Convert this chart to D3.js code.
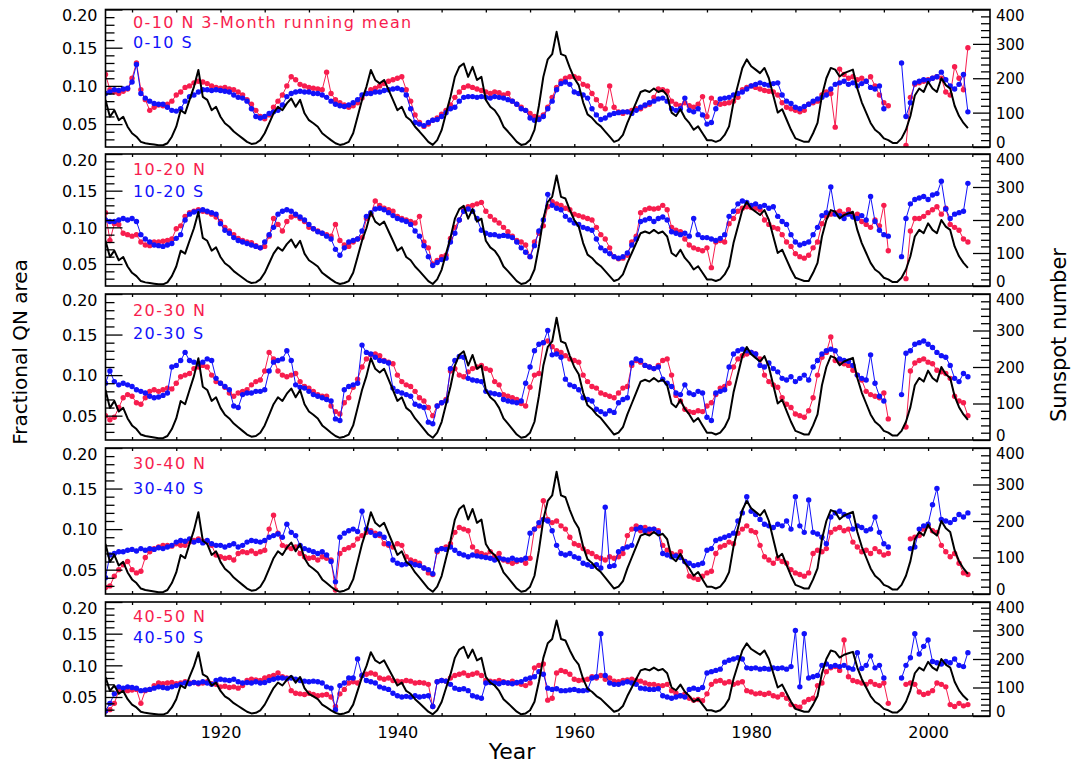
<!DOCTYPE html>
<html lang="en">
<head>
<meta charset="UTF-8">
<title>Fractional QN area and sunspot number</title>
<script src="https://d3js.org/d3.v7.min.js"></script>
<style>
    body { margin: 0; background: #ffffff; }
    text { font-family: "DejaVu Sans", sans-serif; fill: #000; }
    .axis path { display: none; }
    .axis line { stroke: #000; stroke-width: 1.3; }
</style>
</head>
<body>
<svg id="fig" width="1074" height="767"></svg>
<script>
    // half-yearly samples, the first one at 1907.0
    const startYear = 1907;
    const step = 0.5;

    // sunspot number (3-month running mean), right axis
    const sunspot = [
        137, 88, 107, 78, 88, 59,
        40, 30, 15, 11, 9, 7, 5, 5, 11, 30, 59, 107, 98, 137, 175, 224, 146, 137, 107, 117,
        88, 69, 59, 45, 35, 25, 15, 9, 11, 20, 40, 69, 98, 117, 107, 127, 141, 117, 137, 98,
        78, 69, 59, 40, 30, 20, 11, 6, 9, 15, 40, 88, 137, 175, 224, 195, 185, 195, 166, 137,
        107, 117, 88, 78, 59, 45, 30, 15, 6, 20, 49, 98, 146, 204, 233, 243, 204, 233, 195, 204,
        137, 117, 107, 88, 59, 45, 30, 15, 6, 9, 20, 50, 120, 204, 255, 270, 335, 270, 265, 230,
        200, 180, 130, 95, 85, 70, 60, 45, 30, 15, 20, 35, 70, 100, 130, 160, 165, 160, 170, 160,
        165, 150, 100, 90, 110, 85, 70, 50, 60, 40, 20, 20, 15, 20, 35, 60, 130, 180, 230, 255,
        235, 225, 215, 230, 200, 150, 100, 110, 80, 50, 25, 20, 15, 15, 40, 70, 150, 200, 230, 225,
        205, 215, 220, 225, 170, 130, 100, 70, 50, 40, 25, 20, 12, 12, 25, 50, 90, 150, 170, 160,
        190, 170, 160, 200, 180, 170, 120, 90, 70, 55
    ];

    // fractional QN area in units of 0.001, left axis
    const n0_10 = [
        115, 95, 92, 90, 93, 96,
        110, 130, 95, 82, 68, 72, 75, 74, 76, 80, 88, 92, 98, 100, 104, 106, 105, 103, 100, 98,
        97, 98, 96, 95, 92, 88, 82, 76, 68, 60, 57, 62, 72, 80, 88, 100, 112, 108, 102, 100,
        98, 97, 96, 95, 118, 90, 82, 78, 75, 72, 74, 78, 84, 90, 95, 97, 100, 103, 106, 108,
        110, 112, 95, 80, 62, 52, 47, 50, 55, 58, 63, 68, 75, 85, 92, 98, 100, 98, 96, 94,
        92, 90, 92, 91, 88, 90, 80, 76, 72, 68, 64, 60, 58, 62, 72, 85, 98, 106, 110, 112,
        112, 110, 102, 100, 90, 82, 74, 70, 100, 72, 66, 64, 66, 68, 70, 70, 74, 76, 85, 96,
        95, 93, 80, 76, 74, 78, 74, 72, 76, 86, 60, 84, 78, 76, 77, 78, 80, 85, 95, 98,
        100, 98, 96, 94, 93, 92, 88, 78, 72, 70, 68, 66, 68, 76, 78, 80, 88, 92, 90, 46,
        122, 115, 110, 112, 108, 110, 106, 112, 100, 88, 78, 74, null, null, null, 22, 85, 102, 104, 106,
        108, 110, 112, 110, 92, 88, 125, 110, 95, 150
    ];
    const s0_10 = [
        90, 92, 95, 94, 96, 97,
        105, 128, 90, 84, 80, 77, 76, 76, 72, 68, 67, 70, 80, 86, 88, 92, 95, 95, 94, 95,
        94, 93, 92, 88, 85, 84, 80, 70, 60, 58, 60, 64, 66, 68, 75, 86, 90, 92, 93, 92,
        92, 90, 90, 88, 85, 80, 76, 74, 73, 75, 78, 82, 88, 90, 90, 92, 92, 94, 95, 96,
        97, 95, 88, 70, 52, 50, 48, 52, 55, 56, 60, 65, 70, 72, 80, 85, 86, 86, 85, 86,
        85, 84, 86, 85, 84, 82, 80, 76, 70, 68, 58, 55, 56, 60, 70, 80, 95, 103, 105, 102,
        92, 90, 88, 84, 70, 62, 56, 58, 62, 64, 65, 66, 66, 64, 68, 72, 75, 78, 80, 83,
        84, 80, 70, 68, 70, 84, 68, 66, 70, 62, 50, 52, 70, 83, 84, 85, 88, 90, 92, 96,
        100, 102, 104, 102, 101, 103, 104, 88, 80, 77, 72, 70, 73, 76, 80, 83, 85, 88, 96, 102,
        104, 106, 102, 104, 100, 103, 106, 98, 96, 100, 70, null, null, null, 130, 60, 78, 104, 106, 108,
        107, 110, 112, 118, 108, 100, 96, 102, 115, 66
    ];
    const n10_20 = [
        120, 82, 105, 104, 92, 90,
        88, 90, 80, 76, 75, 80, 80, 81, 82, 84, 98, 102, 115, 120, 122, 124, 122, 121, 118, 114,
        108, 100, 95, 90, 85, 82, 80, 79, 75, 72, 74, 88, 112, 104, 95, 108, 114, 116, 112, 108,
        100, 98, 95, 92, 90, 88, 104, 82, 76, 74, 80, 84, 86, 112, 118, 136, 130, 126, 124, 122,
        115, 112, 110, 108, 106, 115, 80, 72, 50, 55, 60, 62, 85, 100, 110, 125, 128, 130, 132, 134,
        122, 115, 110, 106, 100, 94, 88, 82, 80, 76, 60, 80, 92, 102, 128, 135, 132, 130, 126, 124,
        118, 116, 114, 112, 110, 100, 90, 84, 72, 60, 57, 58, 62, 80, 88, 120, 124, 126, 125, 126,
        130, 124, 100, 96, 94, 84, 76, 72, 70, 68, 72, 45, 80, 82, 80, 105, 112, 122, 126, 128,
        127, 126, 124, 110, 104, 100, 98, 90, 80, 74, 64, 60, 58, 62, 72, 80, 105, 115, 118, 120,
        122, 118, 124, 115, 118, 108, 104, 100, 110, 102, 130, 68, null, null, null, 30, 95, 112, 112, 115,
        120, 124, 128, 118, 126, 104, 100, 96, 84, 80
    ];
    const s10_20 = [
        110, 108, 108, 110, 112, 110,
        112, 108, 90, 84, 80, 76, 75, 74, 76, 78, 85, 90, 110, 118, 121, 122, 124, 122, 120, 118,
        105, 96, 92, 86, 82, 80, 78, 76, 74, 72, 80, 90, 100, 118, 122, 124, 122, 118, 114, 110,
        104, 98, 94, 92, 88, 84, 70, 62, 72, 80, 82, 84, 95, 115, 120, 125, 126, 124, 120, 116,
        112, 110, 108, 104, 95, 88, 75, 60, 48, 52, 56, 58, 80, 92, 110, 122, 125, 122, 112, 96,
        92, 90, 90, 88, 89, 88, 86, 80, 72, 66, 60, 75, 95, 110, 145, 130, 126, 124, 115, 110,
        106, 104, 100, 98, 96, 84, 72, 68, 64, 60, 58, 60, 65, 76, 84, 108, 110, 112, 108, 112,
        114, 110, 94, 92, 90, 92, 88, 112, 90, 86, 86, 84, 82, 85, 90, 115, 122, 132, 136, 134,
        130, 132, 128, 130, 126, 128, 115, 108, 104, 90, 80, 76, 78, 80, 90, 100, 116, 120, 155, 118,
        116, 112, 118, 114, 112, 116, 110, 142, 108, 96, 90, 88, null, null, 60, 112, 132, 138, 140, 142,
        138, 144, 146, 163, 125, 112, 118, 120, 122, 160
    ];
    const n20_30 = [
        50, 45, 48, 60, 72, 76,
        74, 66, 64, 72, 80, 82, 80, 82, 84, 83, 90, 98, 100, 102, 108, 110, 112, 110, 100, 92,
        90, 85, 78, 74, 78, 80, 82, 88, 92, 94, 105, 128, 120, 105, 100, 98, 100, 102, 92, 86,
        84, 80, 76, 74, 74, 62, 55, 52, 66, 72, 85, 95, 110, 120, 125, 126, 124, 118, 116, 114,
        100, 92, 88, 86, 80, 72, 68, 60, 50, 62, 66, 70, 105, 108, 100, 98, 104, 108, 110, 112,
        108, 106, 92, 88, 76, 74, 72, 70, 65, 62, 85, 100, 102, 140, 142, 135, 130, 128, 124, 120,
        118, 116, 100, 92, 86, 84, 78, 76, 74, 72, 78, 84, 86, 112, 118, 116, 112, 110, 108, 112,
        118, 120, 100, 75, 68, 58, 55, 54, 56, 55, 62, 66, 76, 84, 86, 90, 110, 120, 124, 126,
        128, 126, 120, 100, 92, 88, 85, 72, 64, 60, 52, 50, 48, 56, 72, 100, 122, 128, 147, 118,
        116, 114, 112, 106, 100, 94, 80, 76, 74, 72, 78, 46, null, null, null, 36, 105, 115, 118, 120,
        116, 114, 106, 104, 102, 96, 74, 68, 66, 50
    ];
    const s20_30 = [
        90, 105, 92, 88, 90, 88,
        86, 82, 80, 78, 74, 72, 73, 75, 78, 110, 112, 118, 128, 118, 116, 114, 116, 120, 118, 96,
        90, 86, 82, 62, 60, 76, 78, 78, 80, 80, 82, 105, 116, 118, 120, 130, 118, 88, 85, 84,
        80, 76, 74, 72, 70, 68, 46, 44, 82, 86, 88, 90, 137, 128, 126, 122, 118, 117, 115, 84,
        80, 78, 76, 74, 64, 62, 60, 42, 40, 62, 66, 68, 108, 118, 123, 122, 96, 94, 93, 92,
        80, 78, 77, 76, 70, 68, 67, 66, 68, 90, 110, 130, 138, 140, 155, 125, 126, 122, 95, 88,
        86, 82, 72, 70, 68, 58, 55, 52, 56, 54, 66, 70, 72, 115, 120, 118, 112, 110, 108, 110,
        95, 90, 86, 78, 76, 88, 78, 76, 80, 78, 48, 44, 78, 80, 82, 110, 126, 130, 132, 130,
        128, 126, 112, 110, 115, 108, 104, 96, 94, 98, 92, 96, 100, 94, 110, 118, 126, 130, 132, 130,
        120, 118, 117, 112, 100, 96, 94, 125, 90, 74, 68, null, null, null, 76, 127, 130, 138, 140, 142,
        138, 134, 128, 124, 122, 112, 96, 92, 102, 98
    ];
    const n30_40 = [
        28, 30, 42, 50, 56, 60,
        50, 46, 48, 65, 72, 76, 78, 80, 80, 79, 82, 80, 80, 84, 86, 88, 85, 84, 80, 68,
        66, 64, 65, 62, 70, 72, 71, 73, 70, 72, 74, 100, 117, 95, 80, 78, 76, 78, 70, 66,
        64, 65, 62, 66, 64, 62, 25, 70, 75, 77, 80, 88, 92, 96, 98, 95, 92, 82, 80, 78,
        82, 80, 66, 62, 60, 58, 52, 46, 44, 72, 76, 78, 82, 96, 102, 100, 98, 78, 72, 70,
        68, 72, 66, 70, 62, 60, 58, 60, 62, 58, 64, 100, 104, 135, 112, 108, 110, 104, 100, 90,
        82, 80, 76, 72, 70, 66, 64, 62, 66, 64, 66, 70, 92, 100, 104, 98, 102, 96, 100, 98,
        80, 74, 70, 68, 72, 60, 42, 40, 38, 42, 46, 48, 70, 78, 80, 84, 82, 95, 100, 104,
        98, 96, 80, 66, 62, 58, 64, 60, 58, 50, 46, 44, 42, 46, 70, 74, 72, 76, 96, 100,
        102, 98, 100, 84, 78, 72, 74, 70, 76, 72, 68, 70, null, null, null, null, 88, 90, 92, 100,
        104, 98, 96, 80, 72, 66, 70, 58, 46, 44
    ];
    const s30_40 = [
        40, 68, 70, 72, 72, 74,
        75, 73, 76, 74, 76, 75, 77, 76, 78, 80, 84, 86, 85, 88, 84, 86, 83, 86, 82, 80,
        80, 78, 80, 82, 78, 80, 84, 86, 85, 84, 86, 90, 92, 94, 90, 106, 96, 92, 80, 76,
        74, 72, 70, 72, 68, 60, 35, 90, 95, 98, 100, 97, 122, 100, 96, 92, 94, 90, 82, 62,
        58, 56, 57, 58, 56, 55, 52, 50, 45, 74, 76, 75, 78, 74, 70, 68, 66, 68, 67, 66,
        65, 64, 62, 64, 63, 62, 64, 62, 62, 64, 95, 100, 108, 112, 110, 98, 80, 70, 68, 70,
        66, 64, 58, 56, 54, 56, 52, 127, 54, 55, 72, 76, 78, 80, 100, 102, 98, 100, 100, 96,
        70, 68, 66, 67, 65, 60, 58, 55, 56, 58, 74, 76, 86, 88, 90, 92, 95, 110, 120, 140,
        122, 118, 112, 106, 104, 102, 106, 104, 110, 100, 140, 104, 96, 136, 96, 94, 90, 82, 115, 120,
        122, 118, 116, 100, 104, 102, 98, 100, 115, 96, 82, 78, null, null, null, null, 76, 78, 100, 104,
        106, 130, 150, 112, 110, 108, 112, 118, 115, 120
    ];
    const n40_50 = [
        28, 30, 40, 60, 62, 60,
        61, 62, 40, 60, 62, 68, 72, 71, 72, 73, 71, 72, 74, 72, 73, 71, 72, 74, 71, 70,
        66, 67, 65, 66, 64, 68, 76, 78, 77, 76, 80, 82, 84, 88, 82, 80, 60, 56, 55, 54,
        56, 54, 52, 53, 54, 50, 35, 55, 62, 72, 74, 72, 84, 86, 88, 86, 80, 78, 80, 76,
        75, 74, 76, 75, 72, 73, 72, 70, 35, 74, 76, 75, 80, 84, 86, 88, 84, 86, 88, 84,
        76, 75, 74, 76, 74, 72, 75, 72, 70, 68, 72, 96, 100, 102, 45, 48, 88, 92, 90, 86,
        78, 76, 77, 78, 82, 80, 84, 78, 80, 75, 74, 76, 77, 78, 76, 75, 72, 70, 70, 68,
        68, 70, 60, 56, 52, 55, 48, 45, 46, 44, 55, 70, 75, 76, 72, 74, 70, 72, 74, 60,
        58, 55, 56, 54, 56, 52, 50, 54, 48, 38, 35, 34, 42, 46, 48, 68, 72, 90, 96, 98,
        92, 140, 82, 76, 74, 72, 70, 74, 70, 68, 72, 40, null, null, null, 70, 72, 70, 58, 54,
        56, 60, 72, 70, 66, 38, 35, 40, 36, 38
    ];
    const s40_50 = [
        28, 40, 55, 66, 64, 66,
        65, 64, 60, 61, 62, 64, 66, 65, 64, 66, 68, 70, 72, 71, 73, 72, 74, 72, 70, 76,
        78, 77, 76, 78, 74, 72, 73, 72, 74, 72, 73, 76, 78, 80, 80, 79, 80, 78, 76, 75,
        74, 75, 74, 72, 66, 64, 30, 68, 72, 80, 80, 110, 84, 76, 74, 72, 66, 64, 62, 56,
        52, 50, 51, 50, 52, 50, 51, 52, 35, 74, 76, 75, 70, 64, 62, 63, 60, 52, 50, 48,
        72, 73, 72, 71, 73, 72, 71, 73, 74, 78, 80, 82, 90, 86, 64, 62, 63, 60, 60, 61,
        62, 60, 60, 61, 80, 82, 150, 84, 72, 70, 70, 72, 74, 72, 70, 64, 63, 62, 62, 63,
        52, 50, 48, 50, 52, 50, 62, 64, 62, 65, 88, 90, 92, 94, 105, 108, 110, 112, 110, 96,
        95, 96, 94, 95, 94, 96, 95, 96, 94, 98, 155, 66, 150, 80, 82, 84, 100, 102, 98, 100,
        98, 100, 96, 94, 120, 95, 100, 115, 96, 100, 80, null, null, null, 80, 100, 112, 150, 118, 130,
        140, 106, 104, 102, 106, 104, 110, 100, 98, 120
    ];

    const northSeries = [n0_10, n10_20, n20_30, n30_40, n40_50];
    const southSeries = [s0_10, s10_20, s20_30, s30_40, s40_50];
    const northLabels = ["0-10 N 3-Month running mean", "10-20 N", "20-30 N", "30-40 N", "40-50 N"];
    const southLabels = ["0-10 S", "10-20 S", "20-30 S", "30-40 S", "40-50 S"];

    const areaTicks = [50, 100, 150, 200];     // 0.001 units
    const sunspotTicks = [0, 100, 200, 300, 400];
    const yearTicks = [1920, 1940, 1960, 1980, 2000];

    // layout of the five stacked panels
    const panels = [
        {top: 9.5, bottom: 147, labelY: [22, 42]},
        {top: 154, bottom: 286, labelY: [169, 191]},
        {top: 294, bottom: 440, labelY: [310, 333]},
        {top: 448, bottom: 594, labelY: [463, 488]},
        {top: 602, bottom: 716, labelY: [616, 637]}
    ];
    const left = 105.5, right = 990;
    const red = "#f71d4e", blue = "#1212fa";

    let svg = d3.select("#fig");
    let x = d3.scaleLinear().domain([1907, 2007]).range([left, right]);

    function yearOf(i) { return startYear + i * step; }

    function drawPanel(p, k) {
        let y = d3.scaleLinear().domain([20, 200]).range([p.bottom, p.top]);
        let ySun = d3.scaleLinear().domain([0, 400]).range([p.bottom, p.top]);
        let g = svg.append("g");

        g.append("clipPath").attr("id", "clip" + k)
            .append("rect")
            .attr("x", left).attr("y", p.top)
            .attr("width", right - left).attr("height", p.bottom - p.top);
        let plot = g.append("g").attr("clip-path", "url(#clip" + k + ")");

        // red then blue, each as connected dots
        [[northSeries[k], red], [southSeries[k], blue]].forEach(function (s) {
            let pts = s[0].map(function (v, i) { return {t: yearOf(i), v: v}; });
            let line = d3.line()
                .defined(function (d) { return d.v != null; })
                .x(function (d) { return x(d.t); })
                .y(function (d) { return y(d.v); });
            plot.append("path").datum(pts)
                .attr("d", line)
                .attr("fill", "none")
                .attr("stroke", s[1])
                .attr("stroke-width", 1);
            plot.selectAll(null)
                .data(pts.filter(function (d) { return d.v != null; }))
                .enter().append("circle")
                .attr("cx", function (d) { return x(d.t); })
                .attr("cy", function (d) { return y(d.v); })
                .attr("r", 2.7)
                .attr("fill", s[1]);
        });

        // sunspot number on top
        let sunLine = d3.line()
            .x(function (d, i) { return x(yearOf(i)); })
            .y(function (d) { return ySun(d); });
        plot.append("path").datum(sunspot)
            .attr("d", sunLine)
            .attr("fill", "none")
            .attr("stroke", "#000")
            .attr("stroke-width", 2)
            .attr("stroke-linejoin", "round");

        // left axis
        g.append("g").attr("class", "axis")
            .attr("transform", "translate(" + left + ",0)")
            .call(d3.axisLeft(y).tickValues(d3.range(30, 200, 10).filter(function (v) { return v % 50; }))
                .tickSize(-9).tickFormat(""));
        g.append("g").attr("class", "axis")
            .attr("transform", "translate(" + left + ",0)")
            .call(d3.axisLeft(y).tickValues(areaTicks).tickSize(-17).tickPadding(8)
                .tickFormat(function (d) { return (d / 1000).toFixed(2); }))
            .selectAll("text").style("font-size", "16px")
            .attr("dy", function (d) { return d === 200 ? "0.7em" : "0.36em"; });

        // right axis
        g.append("g").attr("class", "axis")
            .attr("transform", "translate(" + right + ",0)")
            .call(d3.axisRight(ySun).tickValues(d3.range(20, 400, 20).filter(function (v) { return v % 100; }))
                .tickSize(-9).tickFormat(""));
        g.append("g").attr("class", "axis")
            .attr("transform", "translate(" + right + ",0)")
            .call(d3.axisRight(ySun).tickValues(sunspotTicks).tickSize(-17).tickPadding(6))
            .selectAll("text").style("font-size", "15px")
            .attr("dy", function (d) { return d === 400 ? "0.7em" : (d === 0 ? "0.05em" : "0.36em"); });

        // year ticks top and bottom
        let xt = d3.range(1910, 2007, 5);
        g.append("g").attr("class", "axis")
            .attr("transform", "translate(0," + p.top + ")")
            .call(d3.axisTop(x).tickValues(xt).tickSize(-3).tickFormat(""));
        let bottomAxis = g.append("g").attr("class", "axis")
            .attr("transform", "translate(0," + p.bottom + ")")
            .call(d3.axisBottom(x).tickValues(xt).tickSize(-3).tickPadding(11)
                .tickFormat(function (d) { return (k === 4 && yearTicks.includes(d)) ? d : ""; }));
        bottomAxis.selectAll("text").style("font-size", "16px");

        // frame
        g.append("rect")
            .attr("x", left).attr("y", p.top)
            .attr("width", right - left).attr("height", p.bottom - p.top)
            .attr("fill", "none").attr("stroke", "#000").attr("stroke-width", 1.6);

        // legend text
        g.append("text").attr("x", 133).attr("y", p.labelY[0]).attr("dy", "0.36em")
            .style("font-size", "16px").style("letter-spacing", "1.4px")
            .style("fill", red).text(northLabels[k]);
        g.append("text").attr("x", 133).attr("y", p.labelY[1]).attr("dy", "0.36em")
            .style("font-size", "16px").style("letter-spacing", "1.4px")
            .style("fill", blue).text(southLabels[k]);
    }

    panels.forEach(drawPanel);

    // axis titles
    svg.append("text")
        .attr("x", 512).attr("y", 751).attr("dy", "0.36em")
        .attr("text-anchor", "middle")
        .style("font-size", "22px")
        .text("Year");
    svg.append("text")
        .attr("transform", "translate(20,352) rotate(-90)")
        .attr("dy", "0.36em")
        .attr("text-anchor", "middle")
        .style("font-size", "20px")
        .text("Fractional QN area");
    svg.append("text")
        .attr("transform", "translate(1058,335) rotate(-90)")
        .attr("dy", "0.36em")
        .attr("text-anchor", "middle")
        .style("font-size", "21px")
        .text("Sunspot number");
</script>
</body>
</html>
